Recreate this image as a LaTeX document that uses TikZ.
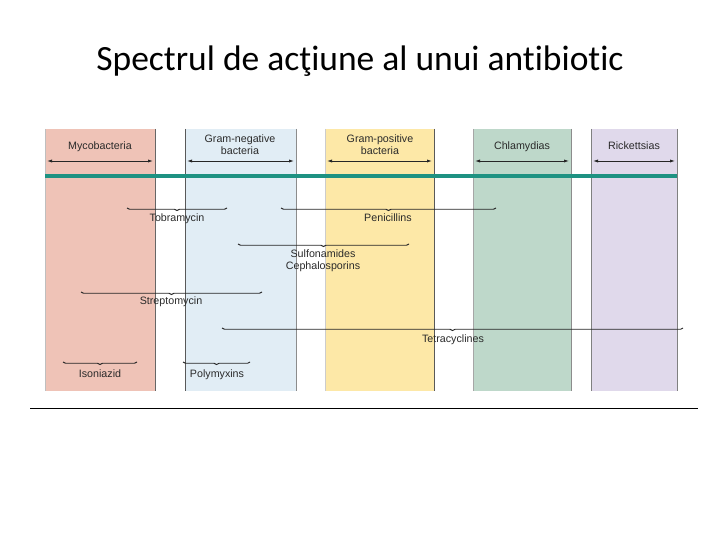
\documentclass[tikz,border=0pt]{standalone}
\usepackage{fontspec}
\setmainfont[Ligatures=NoCommon]{Carlito}
\newfontfamily\arialf{Liberation Sans}
\usetikzlibrary{arrows.meta,calc,decorations.pathreplacing}
\definecolor{cmyco}{HTML}{EFC3B7}
\definecolor{cgneg}{HTML}{E1EDF5}
\definecolor{cgpos}{HTML}{FDE8A7}
\definecolor{cchla}{HTML}{BED8CA}
\definecolor{crick}{HTML}{E0D9EB}
\definecolor{cteal}{HTML}{1E9282}
\definecolor{ctxt}{HTML}{2A2A2A}
\tikzset{
  col/.style={draw=none, minimum height=262pt, anchor=north west, inner sep=0pt, outer sep=0pt},
  edge/.style={draw=#1, line width=0.8pt},
  lbl/.style={font=\arialf\fontsize{10.7}{12}\selectfont, text=ctxt, inner sep=0pt, align=center, anchor=base},
  dbl/.style={{Latex[length=5pt,width=3.2pt]}-{Latex[length=5pt,width=3.2pt]}, line width=0.8pt, draw=black!85},
  brc/.style={decorate, decoration={brace, mirror, amplitude=2.5pt}, line width=0.9pt, draw=black!85},
}
\begin{document}
\begin{tikzpicture}[x=1pt,y=-1pt]
\useasboundingbox (0,0) rectangle (720,540);
\node[font=\fontsize{35.5}{40}\selectfont, inner sep=0pt, anchor=base] (title) at (360,71) {Spectrul de acţiune al unui antibiotic};
% columns
\node[col, fill=cmyco, minimum width=110pt] (myco) at (45,129) {};
\node[col, fill=cgneg, minimum width=111pt] (gneg) at (185,129) {};
\node[col, fill=cgpos, minimum width=109pt] (gpos) at (325,129) {};
\node[col, fill=cchla, minimum width=98pt] (chla) at (473,129) {};
\node[col, fill=crick, minimum width=86pt] (rick) at (591,129) {};
% column edges
\draw[edge=black!25] (myco.north west) -- (myco.south west);
\draw[edge=black!60] (myco.north east) -- (myco.south east);
\draw[edge=black!65] (gneg.north west) -- (gneg.south west);
\draw[edge=black!45] (gneg.north east) -- (gneg.south east);
\draw[edge=black!20] (gpos.north west) -- (gpos.south west);
\draw[edge=black!65] (gpos.north east) -- (gpos.south east);
\draw[edge=black!35] (chla.north west) -- (chla.south west);
\draw[edge=black!45] (chla.north east) -- (chla.south east);
\draw[edge=black!50] (rick.north west) -- (rick.south west);
\draw[edge=black!50] (rick.north east) -- (rick.south east);
% column headers
\node[lbl] (lmyco) at (100,149.5) {Mycobacteria};
\node[lbl] (lgneg) at (240,154.5) {Gram-negative\\bacteria};
\node[lbl] (lgpos) at (380,154.5) {Gram-positive\\bacteria};
\node[lbl] (lchla) at (522,149.5) {Chlamydias};
\node[lbl] (lrick) at (634,149.5) {Rickettsias};
% double arrows
\foreach \c in {myco,gneg,gpos,chla,rick}{
  \draw[dbl] ($(\c.north west)+(2,32)$) -- ($(\c.north east)+(-2,32)$);
}
% teal line
\draw[cteal, line width=3.8pt] ($(myco.north west)+(0,47)$) -- ($(rick.north east)+(0,47)$);
% braces
\coordinate (tob1) at (127,208); \coordinate (tob2) at (227,208);
\coordinate (pen1) at (281,208); \coordinate (pen2) at (496,208);
\coordinate (sul1) at (238,244); \coordinate (sul2) at (409,244);
\coordinate (str1) at (81,292);  \coordinate (str2) at (262,292);
\coordinate (tet1) at (222,328); \coordinate (tet2) at (683,328);
\coordinate (iso1) at (63,362);  \coordinate (iso2) at (137,362);
\coordinate (pol1) at (183,362); \coordinate (pol2) at (250,362);
\draw[brc] (tob1) -- (tob2);
\draw[brc] (pen1) -- (pen2);
\draw[brc] (sul1) -- (sul2);
\draw[brc] (str1) -- (str2);
\draw[brc] (tet1) -- (tet2);
\draw[brc] (iso1) -- (iso2);
\draw[brc] (pol1) -- (pol2);
\node[lbl] (ltob) at (177,221.5) {Tobramycin};
\node[lbl] (lpen) at (388,221.5) {Penicillins};
\node[lbl] (lsul) at (323,257.5) {Sulfonamides};
\node[lbl] (lcep) at (323,269) {Cephalosporins};
\node[lbl] (lstr) at (171,304) {Streptomycin};
\node[lbl] (ltet) at (453,342) {Tetracyclines};
\node[lbl] (liso) at (100,377) {Isoniazid};
\node[lbl] (lpol) at (217,377) {Polymyxins};
% bottom rule
\coordinate (r1) at (30,408); \coordinate (r2) at (698,408);
\draw[line width=1pt, black] (r1) -- (r2);
\end{tikzpicture}
\end{document}
